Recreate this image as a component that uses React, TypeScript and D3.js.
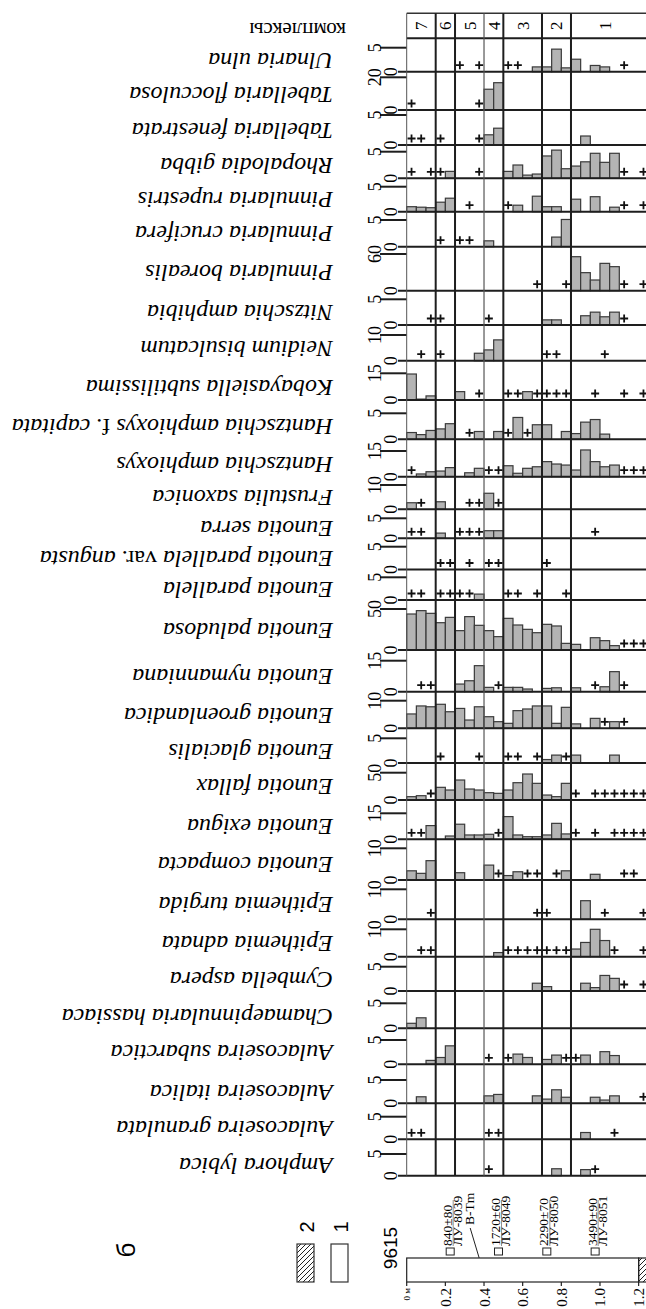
import * as d3 from "d3";
import React from "react";

// "+" = taxon present, below counting level
const P = "+";

const sampleDepths = [0, 0.05, 0.1, 0.15, 0.2, 0.25, 0.3, 0.35, 0.4, 0.45, 0.5, 0.55, 0.6, 0.65, 0.7, 0.75, 0.8, 0.85, 0.9, 0.95, 1.0, 1.05, 1.1, 1.15, 1.2];
const sampleStep = 0.05;

const zoneNames = ["7", "6", "5", "4", "3", "2", "1"];
const zoneTops = [0, 0.15, 0.25, 0.4, 0.5, 0.7, 0.85, 1.25];

const depthTicks = [0, 0.2, 0.4, 0.6, 0.8, 1.0, 1.2];

const dateAges = ["840±80", "1720±60", "2290±70", "3490±90"];
const dateLabs = ["ЛУ-8039", "ЛУ-8049", "ЛУ-8050", "ЛУ-8051"];
const dateDepths = [0.225, 0.475, 0.725, 0.975];
const tephraName = "B-Tm";
const tephraDepth = 0.375;

const lithTop = [0, 1.2];
const lithBottom = [1.2, 1.3];
const lithType = [1, 2];

const ulnariaUlna = [0, 0, 0, 0, 0, P, 0, P, 0, 0, P, P, 0, 1.0, 1.0, 4.7, 0.8, 2.6, 0, 1.3, 1.0, 0, P, 0, 0];
const tabellariaFlocculosa = [P, 0, 0, 0, 0, 0, 0, P, 12.7, 16.7, 0, 0, 0, 0, 0, 0, 0, 0, 0, 0, 0, 0, 0, 0, 0];
const tabellariaFenestrata = [P, P, 0, P, 0, 0, 0, P, 1.7, 2.8, 0, 0, 0, 0, 0, 0, 0, 0, 1.5, 0, 0, 0, 0, 0, 0];
const rhopalodiaGibba = [P, 0, P, P, 1.3, 0, 0, P, 0, 0, 1.3, 2.5, 0.6, 0.8, 4.2, 5.3, 1.8, 2.3, 3.1, 4.7, 3.0, 4.7, P, 0, P];
const pinnulariaRupestris = [1.0, 0.9, 0.8, 1.9, 2.7, 0, P, 0, 0, 0, P, 1.3, 0, 3.1, 1.0, 1.0, 0, 2.5, 0, 3.0, 0, 0.9, P, 0, P];
const pinnulariaCrucifera = [0, 0, 0, P, 0, P, P, 0, 1.1, 0, 0, 0, 0, 0, 0, 1.8, 5.1, 0, 0, 0, 0, 0, 0, 0, 0];
const pinnulariaBorealis = [0, 0, 0, 0, 0, 0, 0, 0, 0, 0, 0, 0, 0, P, 0, 0, P, 55.6, 29.5, 17.5, 44.7, 39.3, P, 0, P];
const nitzschiaAmphibia = [0, 0, P, P, 0, 0, 0, 0, P, 0, 0, 0, 0, 0, 1.0, 1.0, 0, 0, 1.8, 2.5, 1.6, 2.5, P, 0, 0];
const neidiumBisulcatum = [0, P, 0, P, 0, 0, 0, 2.9, 4.2, 8.1, 0, 0, 0, 0, P, P, 0, 0, 0, 0, P, 0, 0, 0, 0];
const kobayasiellaSubtilissima = [14.6, 0.5, 2.3, 0, 0, 4.7, 0, P, 0, 0, P, P, 4.7, P, P, P, P, 0, 0, P, 0, 0, P, 0, P];
const hantzschiaCapitata = [1.3, 0.9, 1.7, 2.0, 3.0, 0, P, 1.5, 0, 1.5, P, 4.2, P, 2.8, 2.8, 0, 1.5, 1.1, 3.3, 3.8, 1.0, 0, 0, 0, 0];
const hantzschiaAmphioxys = [P, 1.6, 2.9, 3.3, 5.3, 0, 2.3, 4.9, P, P, 6.4, 2.0, 4.9, 5.8, 8.8, 7.4, 6.8, 3.9, 15.6, 8.8, 5.8, 6.8, P, P, P];
const frustuliaSaxonica = [2.7, P, 0, 3.1, 0, 0, P, P, 6.6, P, 0, 0, 0, 0, 0, 0, 0, 0, 0, 0, 0, 0, 0, 0, 0];
const eunotiaSerra = [P, P, 0, 1.3, 0, P, P, P, 1.9, 1.9, 0, 0, 0, 0, 0, 0, 0, 0, 0, P, 0, 0, 0, 0, 0];
const eunotiaParallelaAngusta = [0, 0, 0, P, P, 0, P, 0, P, P, 0, 0, 0, 0, P, 0, 0, 0, 0, 0, 0, 0, 0, 0, 0];
const eunotiaParallela = [P, P, 0, P, P, P, P, 1.3, 0, 0, P, P, 0, P, 0, 0, P, 0, 0, 0, 0, 0, 0, 0, 0];
const eunotiaPaludosa = [43.9, 48.0, 44.7, 33.3, 39.8, 23.6, 40.7, 30.1, 23.6, 16.3, 38.6, 30.5, 25.2, 21.1, 31.3, 29.3, 8.1, 6.9, 0, 15.0, 11.4, 5.3, P, P, P];
const eunotiaNymanniana = [0, P, P, 0, 0, 3.7, 5.3, 12.6, 2.1, P, 2.1, 2.1, 1.3, 0, 1.6, 1.9, 0, 1.9, 0, P, 2.4, 9.7, P, 0, 0];
const eunotiaGroenlandica = [5.2, 8.1, 7.8, 8.7, 6.0, 7.2, 3.0, 7.8, 4.2, 2.4, 1.8, 6.4, 7.0, 8.1, 8.1, 1.8, 7.6, 1.6, 0, 3.6, P, 2.4, P, 0, 0];
const eunotiaGlacialis = [0, 0, 0, P, 0, 0, 0, P, 0, 0, P, P, 0, P, 0.7, 1.6, P, 1.6, 0, 0, 0, 1.6, 0, 0, 0];
const eunotiaFallax = [6.1, 7.9, P, 23.2, 18.3, 36.6, 20.1, 18.3, 13.4, 12.2, 18.3, 31.7, 47.6, 30.5, 9.1, 6.1, 30.5, P, 0, P, P, P, P, P, P];
const eunotiaExigua = [P, P, 7.9, 0, 1.9, 8.7, 2.5, 2.5, 2.9, P, 13.1, 2.5, 1.5, 1.5, 2.5, 9.2, 3.1, P, 0, P, 0, P, P, P, P];
const eunotiaCompacta = [2.9, 2.1, 6.1, 0, 0, 2.3, 0, 0, 4.7, P, 1.4, 2.6, P, P, 0, P, 2.9, 0, 0, 1.8, 0, 0, P, P, 0];
const epithemiaTurgida = [0, 0, P, 0, 0, 0, 0, 0, 0, 0, 0, 0, 0, P, P, 0, 0, 0, 6.2, 0, P, 0, 0, 0, P];
const epithemiaAdnata = [0, P, P, 0, 0, 0, 0, 0, 0, 1.5, P, P, P, P, P, P, P, 2.8, 5.2, 10.0, 5.9, P, 0, 0, P];
const cymbellaAspera = [0, 0, 0, 0, 0, 0, 0, 0, 0, 0, 0, 0, 0, 1.6, 0.9, 0, 0, 0, 1.6, 0.7, 3.2, 2.6, P, 0, P];
const chamaepinnulariaHassiaca = [1.0, 2.1, 0, 0, 0, 0, 0, 0, 0, 0, 0, 0, 0, 0, 0, 0, 0, 0, 0, 0, 0, 0, 0, 0, 0];
const aulacoseiraSubarctica = [0, 0, 0.8, 1.4, 3.8, 0, 0, 0, P, 0, P, 2.1, 1.4, 0, 1.0, 1.9, P, P, 1.9, 0, 2.6, 1.8, 0, 0, 0];
const aulacoseiraItalica = [0, 1.4, 0, 0, 0, 0, 0, 0, 1.6, 1.9, 0, 0, 0, 1.6, 0.9, 2.9, 1.3, 0, 0, 1.3, 0.7, 1.6, 0, 0, P];
const aulacoseiraGranulata = [P, P, 0, 0, 0, 0, 0, 0, P, P, 0, 0, 0, 0, 0, 0, 0, 0, 1.5, 0, 0, P, 0, 0, 0];
const amphoraLybica = [0, 0, 0, 0, 0, 0, 0, 0, P, 0, 0, 0, 0, 0, 0, 1.6, 0, 0, 1.4, P, 0, 0, 0, 0, 0];

const taxa = [
    "Ulnaria ulna", "Tabellaria flocculosa", "Tabellaria fenestrata", "Rhopalodia gibba",
    "Pinnularia rupestris", "Pinnularia crucifera", "Pinnularia borealis", "Nitzschia amphibia",
    "Neidium bisulcatum", "Kobayasiella subtilissima", "Hantzschia amphioxys f. capitata",
    "Hantzschia amphioxys", "Frustulia saxonica", "Eunotia serra", "Eunotia parallela var. angusta",
    "Eunotia parallela", "Eunotia paludosa", "Eunotia nymanniana", "Eunotia groenlandica",
    "Eunotia glacialis", "Eunotia fallax", "Eunotia exigua", "Eunotia compacta", "Epithemia turgida",
    "Epithemia adnata", "Cymbella aspera", "Chamaepinnularia hassiaca", "Aulacoseira subarctica",
    "Aulacoseira italica", "Aulacoseira granulata", "Amphora lybica",
];
const series = [
    ulnariaUlna, tabellariaFlocculosa, tabellariaFenestrata, rhopalodiaGibba, pinnulariaRupestris,
    pinnulariaCrucifera, pinnulariaBorealis, nitzschiaAmphibia, neidiumBisulcatum, kobayasiellaSubtilissima,
    hantzschiaCapitata, hantzschiaAmphioxys, frustuliaSaxonica, eunotiaSerra, eunotiaParallelaAngusta,
    eunotiaParallela, eunotiaPaludosa, eunotiaNymanniana, eunotiaGroenlandica, eunotiaGlacialis,
    eunotiaFallax, eunotiaExigua, eunotiaCompacta, epithemiaTurgida, epithemiaAdnata, cymbellaAspera,
    chamaepinnulariaHassiaca, aulacoseiraSubarctica, aulacoseiraItalica, aulacoseiraGranulata, amphoraLybica,
];
const scaleMax = [5, 20, 5, 5, 5, 5, 60, 5, 10, 15, 5, 15, 10, 5, 5, 5, 50, 15, 10, 5, 50, 15, 10, 10, 10, 5, 5, 5, 5, 5, 5];

// layout: height of each strip and of its scale bar (px)
const stripH = [33.4, 38.3, 35, 33.3, 33.4, 35, 44, 34.3, 35.7, 39.3, 39.3, 37.4, 32.6, 29, 31.2, 30.5, 50, 41.7, 36.6, 34.7, 37, 39.3, 40.7, 39.3, 37.4, 34.3, 37.3, 36, 39, 36, 36.4];
const tickH = [24, 32.7, 30, 26.6, 25, 26.7, 36.7, 25.7, 25.7, 26.7, 26, 25.7, 24.3, 20, 22.8, 22.7, 41, 31, 27.6, 24.7, 27.3, 26, 31.7, 30, 27.4, 24.3, 25, 24.3, 23.3, 22.6, 21.7];

const W = 646;
const H = 1309;
const serif = "'Liberation Serif', 'Times New Roman', serif";
const sans = "'Liberation Sans', Arial, sans-serif";

function nameParts(name) {
    return name.split(/( var\. | f\. )/).map((part, i) => (
        <tspan key={i} fontStyle={/var\.|f\./.test(part) ? "normal" : "italic"}>{part}</tspan>
    ));
}

export default function App() {
    const x = d3.scaleLinear().domain([0, 1.25]).range([406.7, 648.3]);
    const headTop = 13.3;
    const headBottom = 38.3;
    const bases = Array.from(d3.cumsum(stripH), (v) => headBottom + v);
    const bottom = bases[bases.length - 1];
    const lithY0 = 1258;
    const lithY1 = 1282;

    return (
        <svg width={W} height={H} style={{ position: "absolute", left: 0, top: 0, background: "#fff" }}>
            <defs>
                <pattern id="hatch" patternUnits="userSpaceOnUse" width="5" height="5">
                    <path d="M-1,1 l2,-2 M0,5 l5,-5 M4,6 l2,-2" stroke="#222" strokeWidth="1" />
                </pattern>
            </defs>
            <rect width={W} height={H} fill="#fff" />

            {/* header */}
            <line x1={x(0)} x2={W} y1={headTop} y2={headTop} stroke="#333" strokeWidth={1.5} />
            <line x1={x(0)} x2={W} y1={headBottom} y2={headBottom} stroke="#1e1e1e" strokeWidth={2} />
            {zoneNames.map((z, k) => {
                const cx = (x(zoneTops[k]) + x(Math.min(zoneTops[k + 1], 1.2))) / 2;
                return (
                    <text key={z} transform={`translate(${cx + 6},${(headTop + headBottom) / 2}) rotate(-90)`}
                        textAnchor="middle" fontFamily={serif} fontSize={17}>{z}</text>
                );
            })}
            <text transform={`translate(346,22.5) rotate(180)`} fontFamily={serif} fontSize={21}>комплексы</text>

            {/* strips */}
            {series.map((vals, r) => {
                const base = bases[r];
                const y = d3.scaleLinear().domain([0, scaleMax[r]]).range([base, base - tickH[r]]);
                const top = y(scaleMax[r]);
                return (
                    <g key={taxa[r]}>
                        <text transform={`translate(333,${base - tickH[r] / 2 - 7}) rotate(180)`}
                            fontFamily={serif} fontSize={24}>{nameParts(taxa[r])}</text>
                        <line x1={380} x2={x(0)} y1={top} y2={top} stroke="#1e1e1e" strokeWidth={2} />
                        <text transform={`translate(381,${top}) rotate(-90)`} textAnchor="middle"
                            fontFamily={serif} fontSize={18}>{scaleMax[r]}</text>
                        <text transform={`translate(397,${base}) rotate(-90)`} textAnchor="middle"
                            fontFamily={serif} fontSize={18}>0</text>
                        {vals.map((v, i) => {
                            const d = sampleDepths[i];
                            if (v === P) {
                                const cx = x(d + sampleStep / 2);
                                const cy = base - 6.5;
                                return (
                                    <path key={i} d={`M${cx - 4},${cy}H${cx + 4}M${cx},${cy - 4}V${cy + 4}`}
                                        stroke="#111" strokeWidth={1.8} />
                                );
                            }
                            if (!v) return null;
                            return (
                                <rect key={i} x={x(d)} width={x(d + sampleStep) - x(d)} y={y(v)} height={base - y(v)}
                                    fill="#b4b4b4" stroke="#3a3a3a" strokeWidth={1.2} />
                            );
                        })}
                        <line x1={398} x2={W} y1={base} y2={base} stroke="#1e1e1e" strokeWidth={2} />
                    </g>
                );
            })}

            {/* zone boundaries */}
            <line x1={x(0)} x2={x(0)} y1={headTop} y2={bottom} stroke="#555" strokeWidth={1} />
            {zoneTops.slice(1, -1).map((d) => (
                <line key={d} x1={x(d)} x2={x(d)} y1={headTop} y2={bottom}
                    stroke={d === 0.4 ? "#555" : "#1e1e1e"} strokeWidth={d === 0.4 ? 1.2 : 2} />
            ))}

            {/* section column */}
            <text transform={`translate(397,1248) rotate(-90)`} textAnchor="middle" fontFamily={sans} fontSize={19}>9615</text>
            {lithType.map((t, k) => (
                <rect key={k} x={x(lithTop[k])} width={x(lithBottom[k]) - x(lithTop[k])} y={lithY0} height={lithY1 - lithY0}
                    fill={t === 2 ? "url(#hatch)" : "#fff"} stroke="#222" strokeWidth={1.2} />
            ))}
            {depthTicks.map((d) => (
                <g key={d}>
                    <line x1={x(d)} x2={x(d)} y1={lithY1} y2={lithY1 + 4} stroke="#222" strokeWidth={1.2} />
                    <text transform={`translate(${x(d) + (d === 0 ? 3 : 5.5)},${lithY1 + 6}) rotate(-90)`} textAnchor="end"
                        fontFamily={serif} fontSize={d === 0 ? 9 : 15}>{d === 0 ? "0 м" : d.toFixed(1)}</text>
                </g>
            ))}
            {dateDepths.map((d, k) => {
                const cx = x(d);
                return (
                    <g key={d}>
                        <rect x={cx - 4} y={lithY0 - 10} width={8} height={7} fill="#fff" stroke="#222" strokeWidth={1} />
                        <text transform={`translate(${cx + 1.5},${lithY0 - 12}) rotate(-90)`} fontFamily={serif} fontSize={13.5}>{dateAges[k]}</text>
                        <line x1={cx + 3} x2={cx + 3} y1={lithY0 - 12} y2={lithY0 - 58} stroke="#444" strokeWidth={0.6} />
                        <text transform={`translate(${cx + 11.5},${lithY0 - 12}) rotate(-90)`} fontFamily={serif} fontSize={13.5}>{dateLabs[k]}</text>
                    </g>
                );
            })}
            <text transform={`translate(${x(tephraDepth) - 5},${lithY0 - 33}) rotate(-90)`} fontFamily={serif} fontSize={13.5}>{tephraName}</text>
            <line x1={x(tephraDepth) - 9} y1={lithY0 - 30} x2={x(tephraDepth)} y2={lithY0} stroke="#222" strokeWidth={1} />

            {/* legend */}
            <rect x={297} y={1244} width={17} height={38} fill="url(#hatch)" stroke="#333" strokeWidth={1.2} />
            <rect x={331} y={1244} width={17} height={38} fill="#fff" stroke="#333" strokeWidth={1.2} />
            <text transform="translate(314,1227) rotate(-90)" textAnchor="middle" fontFamily={sans} fontSize={20}>2</text>
            <text transform="translate(348,1227) rotate(-90)" textAnchor="middle" fontFamily={sans} fontSize={20}>1</text>
            <text transform="translate(135,1250) rotate(-90)" textAnchor="middle" fontFamily={sans} fontSize={26}>б</text>
        </svg>
    );
}
